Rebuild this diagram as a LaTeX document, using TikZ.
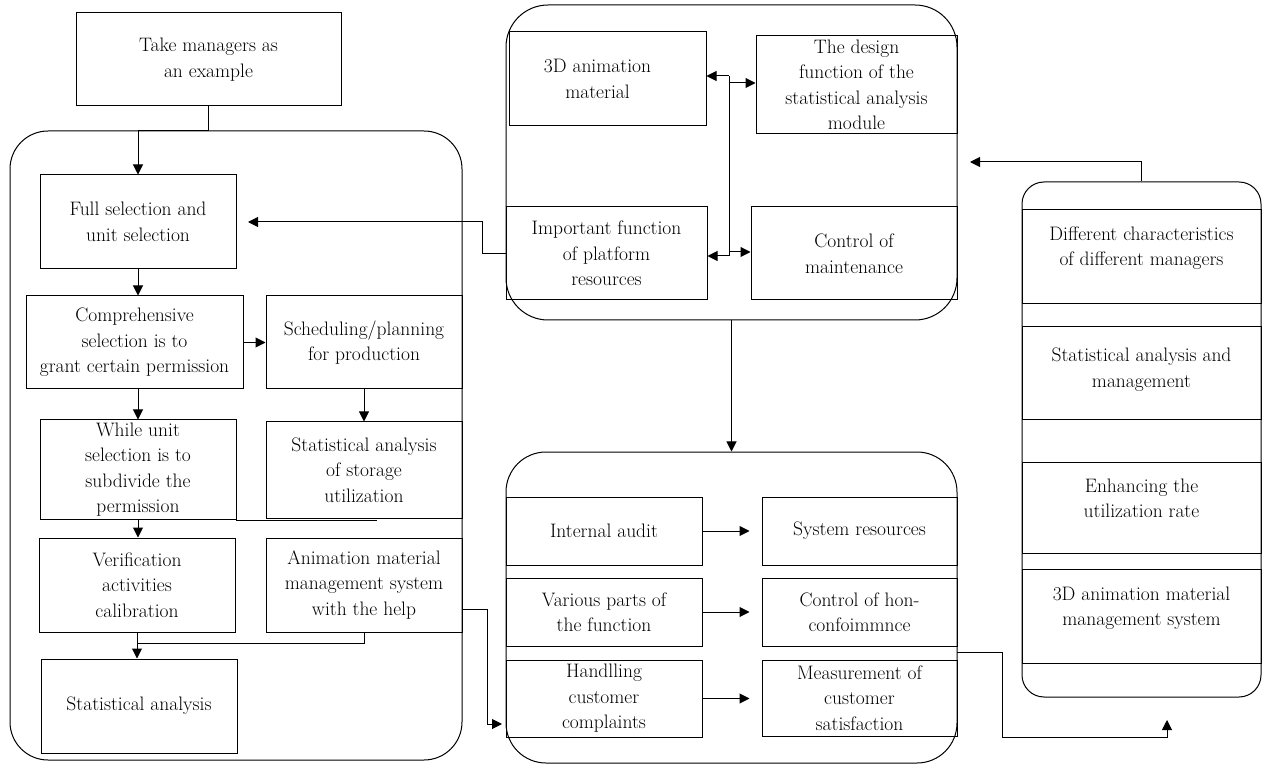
\documentclass[tikz,border=0pt]{standalone}
\usetikzlibrary{arrows.meta,calc}
\begin{document}
\begin{tikzpicture}[x=1pt,y=-1pt,
  fs/.style={font=\fontsize{19.5}{25.5}\selectfont},
  box/.style={draw, line width=1pt, align=center, inner sep=0pt, fs},
  txt/.style={align=center, inner sep=0pt, fs},
  cont/.style={draw, line width=1pt, rounded corners=#1, inner sep=0pt},
  arr/.style={-{Triangle[length=10pt,width=10pt]}, line width=1pt},
  ln/.style={line width=1pt}]
\useasboundingbox (0,0) rectangle (1262,767);

% containers
\node[cont=38, minimum width=452, minimum height=629] (leftC) at (236,445.5) {};
\node[cont=42, minimum width=451, minimum height=315] (topC) at (731.5,162.5) {};
\node[cont=40, minimum width=451, minimum height=311] (botC) at (731.5,607.5) {};
\node[cont=22, minimum width=239, minimum height=515] (rightC) at (1141.5,439.5) {};

% left part
\node[box, minimum width=265, minimum height=93] (take) at (208.5,59.5) {Take managers as\\an example};
\node[box, minimum width=196, minimum height=94] (full) at (138,222) {Full selection and\\unit selection};
\node[box, minimum width=217, minimum height=93] (comp) at (134.5,342.5) {Comprehensive\\selection is to\\grant certain permission};
\node[box, minimum width=196, minimum height=93] (sched) at (364,342.5) {Scheduling/planning\\for production};
\node[box, minimum width=196, minimum height=99] (while) at (138,469.5) {While unit\\selection is to\\subdivide the\\permission};
\node[box, minimum width=196, minimum height=96] (stor) at (364,470) {Statistical analysis\\of storage\\utilization};
\node[box, minimum width=196, minimum height=94] (verif) at (137,585) {Verification\\activities\\calibration};
\node[box, minimum width=196, minimum height=94] (anim) at (364,585) {Animation material\\management system\\with the help};
\node[box, minimum width=196, minimum height=94] (stat) at (139,706) {Statistical analysis};

% top part
\node[box, minimum width=197, minimum height=94] (mat3d) at (607.5,79) {};
\node[txt] (mat3dt) at ($(mat3d)+(-10,0)$) {3D animation\\material};
\node[box, minimum width=201, minimum height=98] (design) at (856.5,85) {The design\\function of the\\statistical analysis\\module};
\node[box, minimum width=201, minimum height=93] (imp) at (606.5,253.5) {Important function\\of platform\\resources};
\node[box, minimum width=206, minimum height=93] (ctrl) at (854,253.5) {Control of\\maintenance};

% bottom part
\node[box, minimum width=196, minimum height=68] (audit) at (604,531) {Internal audit};
\node[box, minimum width=195, minimum height=68] (sysres) at (859.5,531) {System resources};
\node[box, minimum width=196, minimum height=68] (various) at (604,612) {Various parts of\\the function};
\node[box, minimum width=195, minimum height=68] (hon) at (859.5,612) {Control of hon-\\confoimmnce};
\node[box, minimum width=196, minimum height=77] (handl) at (604,698.5) {Handlling\\customer\\complaints};
\node[box, minimum width=195, minimum height=76] (meas) at (859.5,698) {Measurement of\\customer\\satisfaction};

% right part
\node[box, minimum width=239, minimum height=94] (r1) at (1141.5,257) {};
\node[txt] (r1t) at ($(r1)+(0,-9)$) {Different characteristics\\of different managers};
\node[box, minimum width=239, minimum height=93] (r2) at (1141.5,373.5) {};
\node[txt] (r2t) at ($(r2)+(0,-4)$) {Statistical analysis and\\management};
\node[box, minimum width=239, minimum height=91] (r3) at (1141.5,507.5) {};
\node[txt] (r3t) at ($(r3)+(0,-9)$) {Enhancing the\\utilization rate};
\node[box, minimum width=239, minimum height=94] (r4) at (1141.5,616) {};
\node[txt] (r4t) at ($(r4)+(0,-8)$) {3D animation material\\management system};

% coordinates
\coordinate (j1) at (138,131);
\coordinate (j2) at (482,222);
\coordinate (j3) at (138,643);
\coordinate (s1) at (377,520);
\coordinate (s2) at (236,520);
\coordinate (a0) at (462,609);
\coordinate (a1) at (487,724);
\coordinate (a2) at (502,724);
\coordinate (b1) at (729,76);
\coordinate (b2) at (729,256);
\coordinate (b3) at (729,83);
\coordinate (b4) at (729,252);
\coordinate (f1) at (248,222);
\coordinate (j5) at (970,162);
\coordinate (k0) at (957,652);
\coordinate (k1) at (1002,737);
\coordinate (k2) at (1167,720);

% connectors left
\draw[arr] (take.south) |- (j1) -- (full.north);
\draw[arr] (imp.west) -| (j2) -- (f1);
\draw[arr] (full.south) -- (full.south |- comp.north);
\draw[arr] (comp.east) -- (sched.west);
\draw[arr] (comp.south -| while.north) -- (while.north);
\draw[arr] (sched.south) -- (stor.north);
\draw[arr] (while.south) -- (while.south |- verif.north);
\draw[ln] (s1) -- (s2);
\draw[arr] (verif.south) -- (verif.south |- stat.north);
\draw[ln] (anim.south) |- (j3);
\draw[arr] (a0) -| (a1) -- (a2);

% top
\draw[ln] (b1) -- (b2);
\draw[arr] (b1) -- (b1 -| mat3d.east);
\draw[arr] (b3) -- (b3 -| design.west);
\draw[arr] (b2) -- (b2 -| imp.east);
\draw[arr] (b4) -- (b4 -| ctrl.west);
\draw[arr] (topC.south) -- (botC.north);

% bottom
\draw[arr] (audit.east) -- ++(47,0);
\draw[arr] (various.east) -- ++(47,0);
\draw[arr] (handl.east) -- ++(47,0);

% right
\draw[arr] (rightC.north) |- (j5);
\draw[arr] (k0) -| (k1) -| (k2);
\end{tikzpicture}
\end{document}
